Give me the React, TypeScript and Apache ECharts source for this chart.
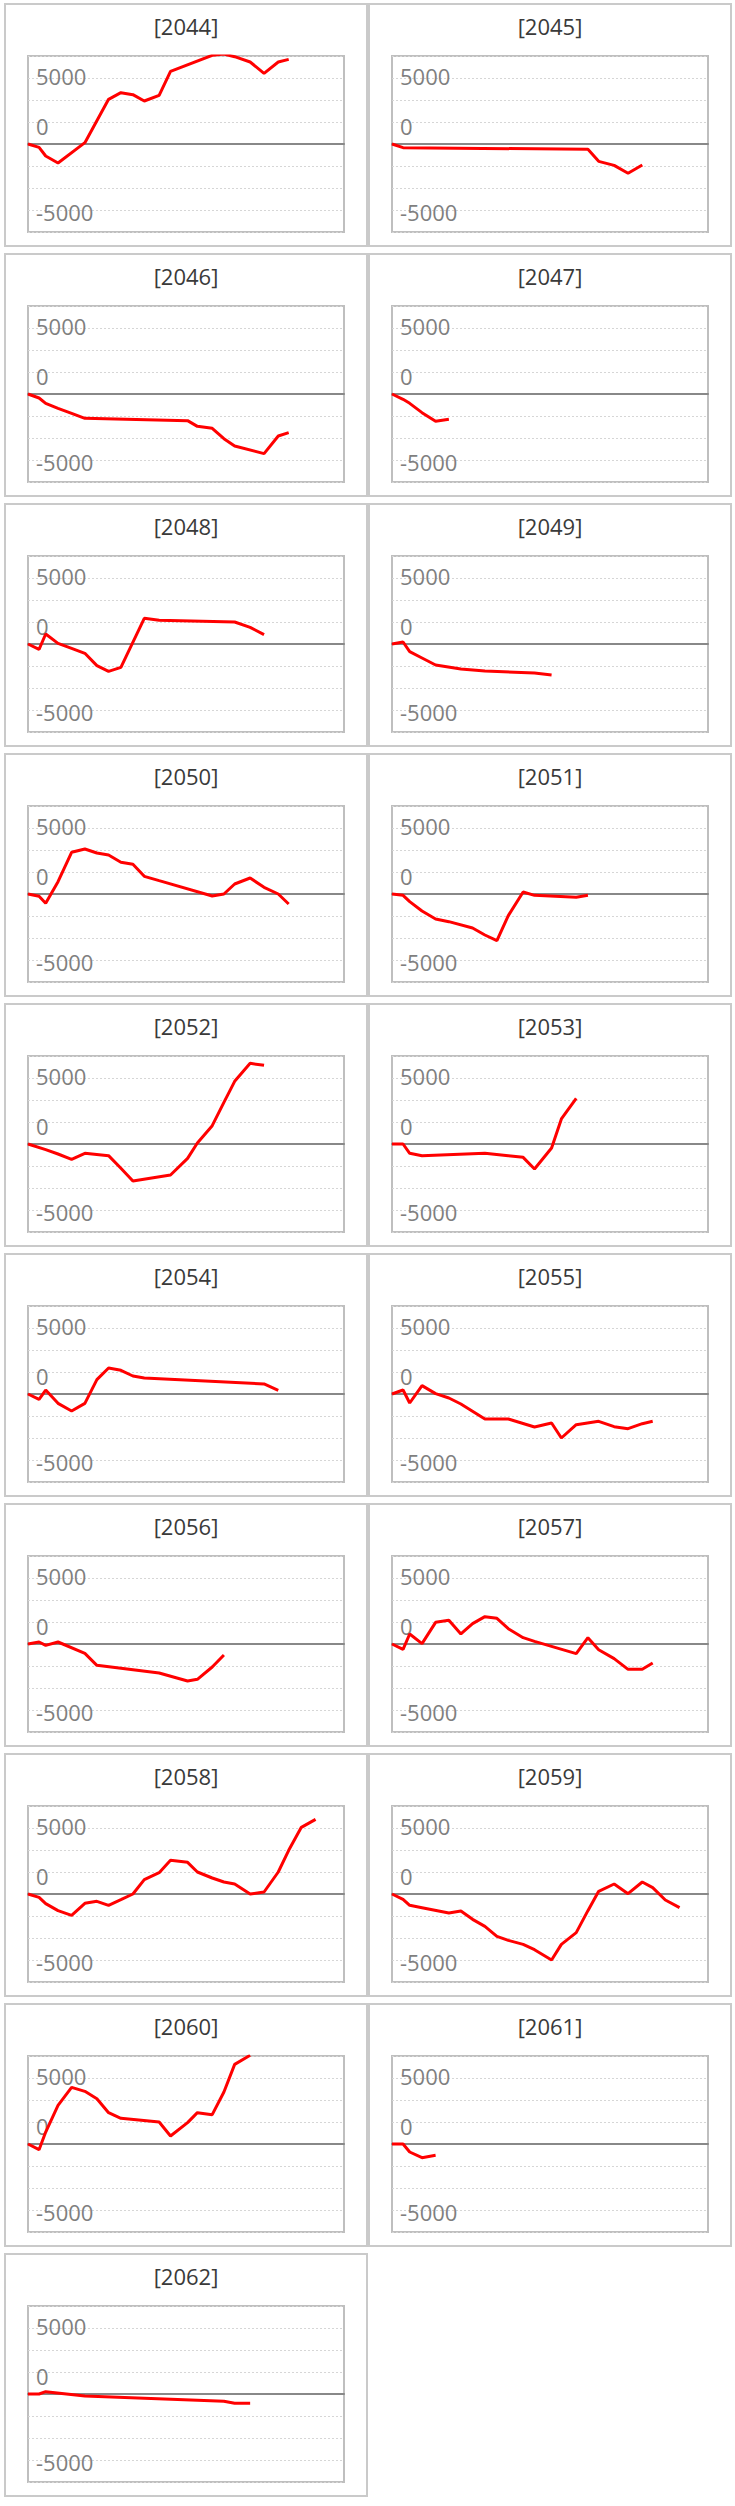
import React, { useEffect, useRef } from "react";
import * as echarts from "echarts";

const FONT = "'Open Sans', 'Noto Sans', sans-serif";
const N = null;

// x positions of the observations, as percent of the x-axis span
const xPos = [0, 3.5, 5.6, 9.5, 13.8, 18.0, 21.8, 25.5, 29.4, 33.2, 36.8, 41.5, 45.1, 50.5, 53.6, 58.3, 62.0, 65.4, 70.3, 74.7, 79.2, 82.5, 86.5, 91.0];

const yLabels = [-5000, 0, 5000];

const years = ["2044", "2045", "2046", "2047", "2048", "2049", "2050", "2051", "2052", "2053", "2054", "2055", "2056", "2057", "2058", "2059", "2060", "2061", "2062"];

const y2044 = [0, -246, -886, -1403, N, 98, N, 3299, 3791, 3644, 3176, 3594, 5367, N, N, 6550, 6650, 6450, 6057, 5220, 6057, 6254];
const y2045 = [0, -271, N, N, N, N, N, N, N, N, N, N, N, N, N, N, -394, -1280, -1576, -2166, -1551];
const y2046 = [0, -295, -689, -1059, -1428, -1797, N, N, N, N, N, N, N, -1970, -2388, -2536, -3299, -3841, N, -4407, -3102, -2856];
const y2047 = [0, -394, -689, -1379, -2019, -1871];
const y2048 = [0, -394, 739, 49, -320, -689, -1600, -2019, -1723, N, 1896, 1748, N, N, N, N, N, 1625, 1231, 689];
const y2049 = [0, 148, -566, -1034, -1551, N, -1847, N, -1994, N, N, N, -2142, -2290];
const y2050 = [0, -172, -689, 911, 3078, 3324, 3028, 2881, 2339, 2191, 1305, 985, N, N, N, -148, 0, 739, 1182, 492, 0, -739];
const y2051 = [0, -98, -566, -1256, -1847, -2043, N, -2511, -3028, -3447, -1600, 148, -98, N, N, -246, -98];
const y2052 = [0, N, -419, -739, -1133, -689, N, -862, -1797, -2733, N, N, -2290, -1059, 74, 1354, 3078, 4629, 5958, 5810];
const y2053 = [0, 0, -689, -862, N, N, N, N, -689, N, -862, -985, -1847, -295, 1847, 3373];
const y2054 = [0, -394, 295, -689, -1256, -689, 1059, 1920, 1748, 1330, 1182, N, N, N, N, N, N, N, N, 739, 271];
const y2055 = [0, 295, -665, 616, 25, -295, -739, N, -1847, N, -1847, N, -2437, -2142, -3250, -2265, N, -2019, -2412, -2560, -2191, -2019];
const y2056 = [0, 148, -98, 148, N, -689, -1576, N, N, N, N, -2142, N, -2733, -2610, -1699, -812];
const y2057 = [0, -394, 739, 25, 1600, 1748, 739, 1502, 2019, 1896, 1133, 468, 197, N, N, -714, 468, -419, -1083, -1871, -1871, -1403];
const y2058 = [0, -246, -714, -1231, -1576, -689, -542, -837, -419, 0, 1059, 1576, 2487, 2339, 1625, 1182, 886, 739, 0, 148, 1625, 3225, 4924, 5515];
const y2059 = [0, -394, -837, -1009, N, -1403, -1256, -1871, -2388, -3127, -3422, -3718, -4112, -4875, -3718, -2856, -1231, 197, 739, 25, 886, 468, -443, -1009];
const y2060 = [0, -419, 886, 2856, 4185, 3890, 3348, 2314, 1896, N, N, 1625, 591, 1576, 2314, 2166, 3841, 5884, 6550];
const y2061 = [0, 0, -591, -1009, -837];
const y2062 = [0, 0, 172, N, N, -148, N, N, N, N, N, N, N, N, N, N, -542, -689, -689];

const seriesValues = [y2044, y2045, y2046, y2047, y2048, y2049, y2050, y2051, y2052, y2053, y2054, y2055, y2056, y2057, y2058, y2059, y2060, y2061, y2062];

type PanelProps = { year: string; values: (number | null)[]; left: number; top: number };

function Panel({ year, values, left, top }: PanelProps) {
  const ref = useRef<HTMLDivElement>(null);
  useEffect(() => {
    if (!ref.current) return;
    const chart = echarts.init(ref.current, null, { renderer: "svg" });
    const data: [number, number][] = [];
    values.forEach((v, i) => {
      if (v !== null && v !== undefined) data.push([xPos[i], v]);
    });
    chart.setOption({
      animation: false,
      title: {
        text: `[${year}]`,
        left: "center",
        top: 5,
        textStyle: { fontFamily: FONT, fontSize: 22, fontWeight: "normal", color: "#3a3a3a" },
      },
      grid: {
        left: 22,
        top: 51,
        width: 316,
        height: 176,
        show: true,
        borderColor: "#bfbfbf",
        borderWidth: 2,
        backgroundColor: "transparent",
      },
      xAxis: {
        type: "value",
        min: 0,
        max: 100,
        axisLine: { show: true, onZero: true, lineStyle: { color: "#888888", width: 2 } },
        axisTick: { show: false },
        axisLabel: { show: false },
        splitLine: { show: false },
      },
      yAxis: [
        {
          type: "value",
          min: -6500,
          max: 6500,
          interval: 1625,
          axisLine: { show: false },
          axisTick: { show: false },
          axisLabel: { show: false },
          splitLine: { show: true, lineStyle: { color: "#d6d6d6", width: 1, type: [2, 2] } },
        },
        {
          type: "value",
          position: "left",
          min: -6500,
          max: 6500,
          axisLine: { show: false },
          axisTick: { show: false },
          splitLine: { show: false },
          axisLabel: {
            inside: true,
            margin: 8,
            customValues: yLabels,
            color: "#7f7f7f",
            fontSize: 22,
            fontFamily: FONT,
            formatter: (v: number) => (v === 0 ? "{z|0}" : String(v)),
            rich: {
              z: { padding: [0, 0, 36, 0], color: "#7f7f7f", fontSize: 22, fontFamily: FONT },
            },
          },
        },
      ],
      series: [
        {
          type: "line",
          data,
          xAxisIndex: 0,
          yAxisIndex: 0,
          showSymbol: false,
          symbol: "none",
          clip: true,
          lineStyle: { color: "#ff0000", width: 3 },
          itemStyle: { color: "#ff0000" },
        },
      ],
    });
    return () => chart.dispose();
  }, [year, values]);

  return (
    <div
      style={{
        position: "absolute",
        left,
        top,
        width: 364,
        height: 244,
        boxSizing: "border-box",
        border: "2px solid #cacaca",
        background: "#fff",
      }}
    >
      <div ref={ref} style={{ width: 360, height: 240 }} />
    </div>
  );
}

export default function App() {
  return (
    <div style={{ position: "absolute", left: 0, top: 0, width: 735, height: 2506, background: "#fff" }}>
      {years.map((y, i) => (
        <Panel
          key={y}
          year={y}
          values={seriesValues[i]}
          left={4 + 364 * (i % 2)}
          top={3 + 250 * Math.floor(i / 2)}
        />
      ))}
    </div>
  );
}
